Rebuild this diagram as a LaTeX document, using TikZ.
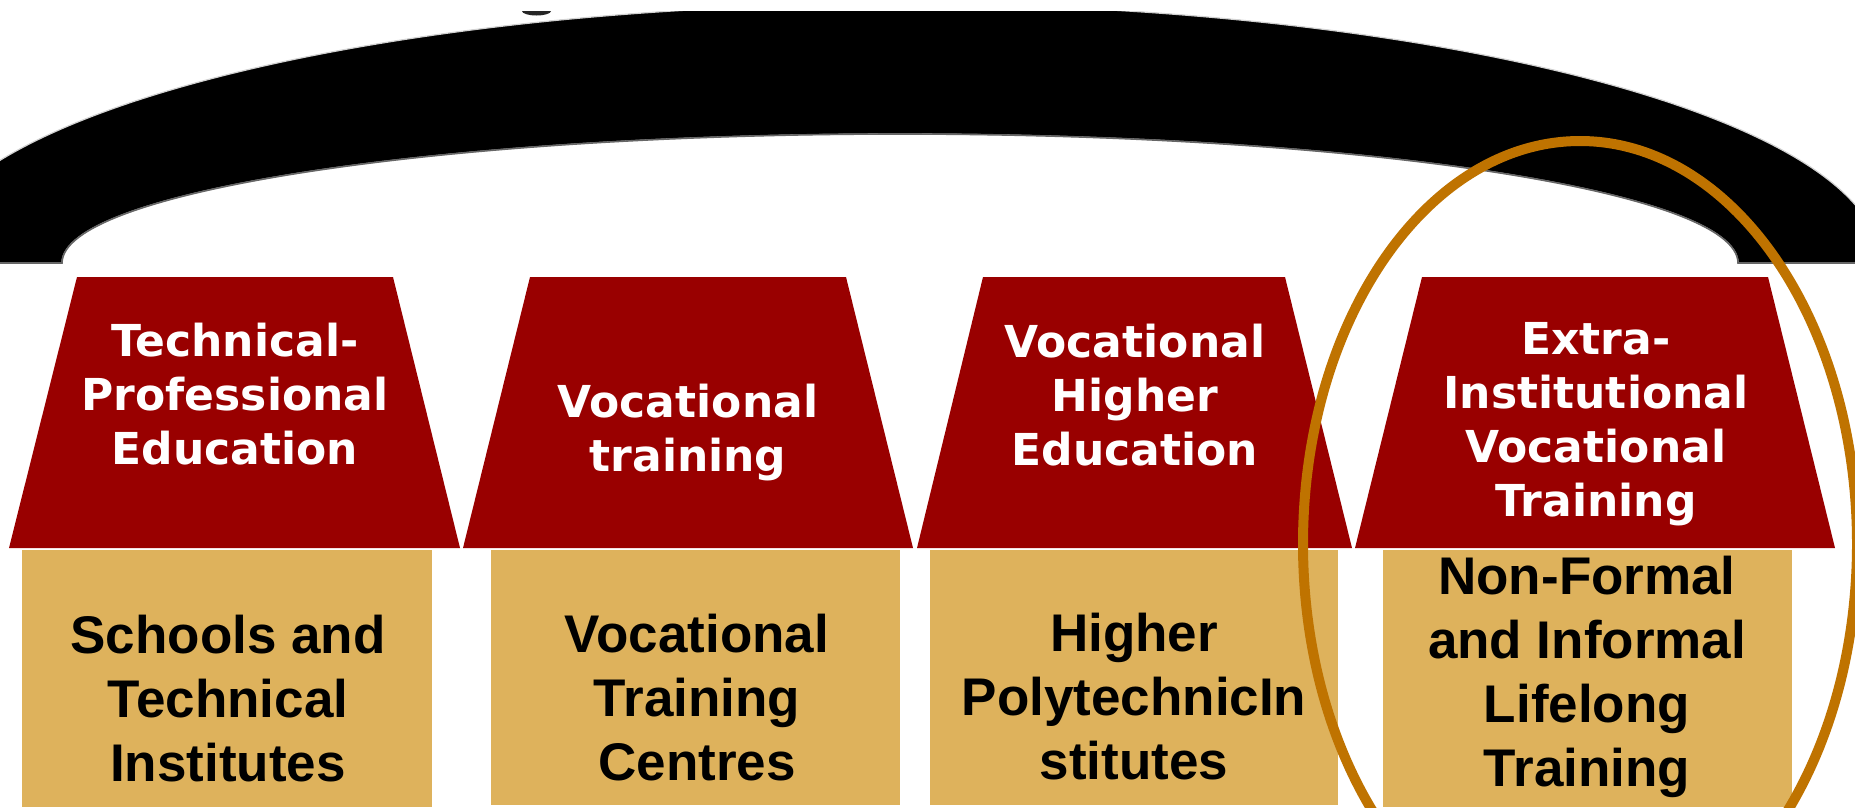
\documentclass[tikz,border=0pt]{standalone}
\usepackage{fontspec}
\newfontfamily\hdfont{DejaVu Sans}
\newfontfamily\bxfont{Liberation Sans}
\definecolor{hdred}{HTML}{990000}
\definecolor{boxgold}{HTML}{DEB25C}
\definecolor{ringorange}{HTML}{BF7300}
\begin{document}
\begin{tikzpicture}[x=1pt,y=-1pt,
  hd/.style={fill=hdred, draw=none},
  bx/.style={fill=boxgold, draw=none},
  hdtext/.style={text=white, font=\hdfont\bfseries\fontsize{44}{54}\selectfont, align=center, inner sep=0pt},
  bxtext/.style={text=black, font=\bxfont\bfseries\fontsize{53}{64}\selectfont, align=center, inner sep=0pt}]
\useasboundingbox (0,0) rectangle (1855,807);
\fill[white] (0,0) rectangle (1855,807);
% arch
\begin{scope}
\clip (0,11) rectangle (1855,807);
\path[fill=black, draw=gray!35, line width=1.2pt]
  (-80,263) arc[start angle=180, end angle=360, x radius=980, y radius=259]
  -- (1738,263) arc[start angle=0, end angle=-180, x radius=838, y radius=129]
  -- cycle;
\draw[gray!80!black, line width=1.6pt]
  (1880,263) -- (1738,263) arc[start angle=0, end angle=-180, x radius=838, y radius=129]
  -- (-80,263);
\end{scope}
\fill[black!85] (522,11) arc[start angle=180, end angle=0, x radius=14.5, y radius=4.5] -- cycle;
% header trapezoids
\path[hd] (77,277) -- (393,277) -- (460,548) -- (9,548) -- cycle;
\path[hd] (530,277) -- (846,277) -- (913,548) -- (463,548) -- cycle;
\path[hd] (983,277) -- (1285,277) -- (1352,548) -- (917,548) -- cycle;
\path[hd] (1422,277) -- (1768,277) -- (1835,548) -- (1355,548) -- cycle;
% boxes
\path[bx] (22,550) rectangle (432,807);
\path[bx] (491,550) rectangle (900,805);
\path[bx] (930,550) rectangle (1338,805);
\path[bx] (1383,550) rectangle (1792,807);
% texts
\node[hdtext] (h1) at (235,394) {Technical-\\Professional\\Education};
\node[hdtext] (h2) at (688,433) {Vocational\\training};
\node[hdtext] (h3) at (1135,395) {Vocational\\Higher\\Education};
\node[hdtext] (h4) at (1596,424) {Extra-\\Institutional\\Vocational\\Training};
\node[bxtext] (t1) at (228,699) {Schools and\\Technical\\Institutes};
\node[bxtext] (t2) at (697,698) {Vocational\\Training\\Centres};
\node[bxtext] (t3) at (1134,697) {Higher\\PolytechnicIn\\stitutes};
\node[bxtext] (t4) at (1587,677) {Non-Formal\\and Informal\\Lifelong\\Training};
% highlight ring
\draw[ringorange, line width=10pt] (1580,544) ellipse [x radius=277, y radius=403];
\end{tikzpicture}
\end{document}
